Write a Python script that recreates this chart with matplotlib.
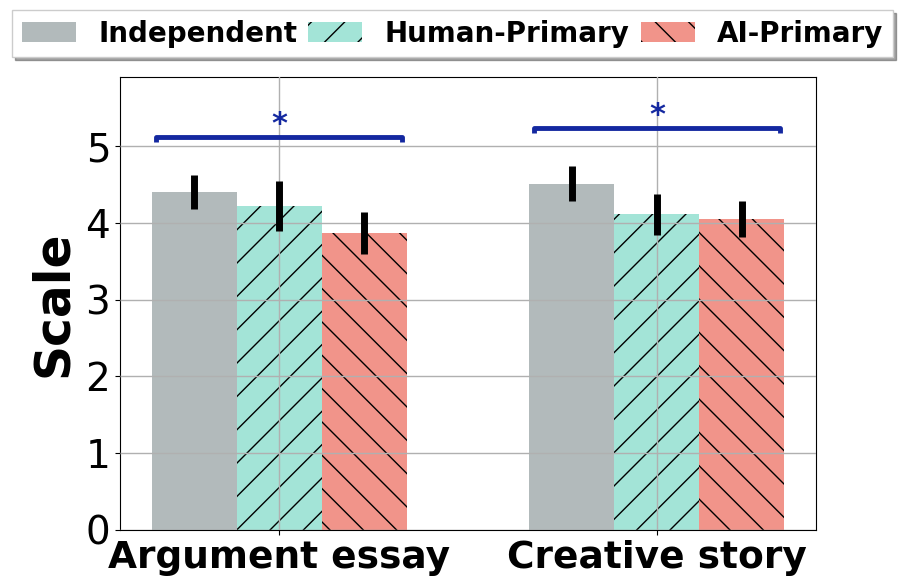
import matplotlib.pyplot as plt
import numpy as np

tasks = ["Argument essay", "Creative story"]
groups = ["Independent", "Human-Primary", "AI-Primary"]
means = {
    "Independent": [4.40, 4.51],
    "Human-Primary": [4.22, 4.11],
    "AI-Primary": [3.87, 4.05],
}
errors = {
    "Independent": [0.22, 0.23],
    "Human-Primary": [0.32, 0.27],
    "AI-Primary": [0.27, 0.23],
}
sig_heights = [5.12, 5.24]
sig_labels = ["*", "*"]

colors = ["#b2babb", "#a3e4d7", "#f1948a"]
hatches = ["", "/", "\\"]

plt.rcParams["hatch.linewidth"] = 1.0
fig = plt.figure(figsize=(9.03, 5.86), dpi=100)
ax = fig.add_axes([0.1329, 0.0956, 0.7708, 0.773])

x = np.arange(len(tasks))
width = 0.225
for i, g in enumerate(groups):
    pos = x + (i - 1) * width
    ax.bar(pos, means[g], width, color=colors[i], hatch=hatches[i],
           edgecolor="black", linewidth=0, label=g)
    ax.errorbar(pos, means[g], yerr=errors[g], fmt="none",
                ecolor="black", elinewidth=5, capsize=0, zorder=3)

for xi, h, lab in zip(x, sig_heights, sig_labels):
    left, right = xi - 1.45 * width, xi + 1.45 * width
    ax.plot([left, left, right, right], [h - 0.07, h, h, h - 0.07],
            color="#1428a0", lw=3.5, solid_capstyle="butt", zorder=3)
    ax.text(xi, h - 0.03, lab, ha="center", va="bottom",
            fontsize=22, fontweight="bold", color="#1428a0")

ax.set_ylim(0, 5.9)
ax.set_yticks([0, 1, 2, 3, 4, 5])
ax.tick_params(axis="y", labelsize=28)
ax.set_xticks(x, tasks, fontsize=27, fontweight="bold")
ax.set_ylabel("Scale", fontsize=35, fontweight="bold", labelpad=6)
ax.grid(True, color="#b0b0b0", lw=1)
ax.set_axisbelow(False)

ax.legend(loc="upper center", bbox_to_anchor=(0.5011, 0.983),
          bbox_transform=fig.transFigure, ncol=3,
          prop={"weight": "bold", "size": 20}, fancybox=False,
          shadow=True, framealpha=1, handlelength=1.95,
          columnspacing=0.4, handletextpad=0.8, borderpad=0.35,
          borderaxespad=0)

fig.savefig("out.png", dpi=100)
